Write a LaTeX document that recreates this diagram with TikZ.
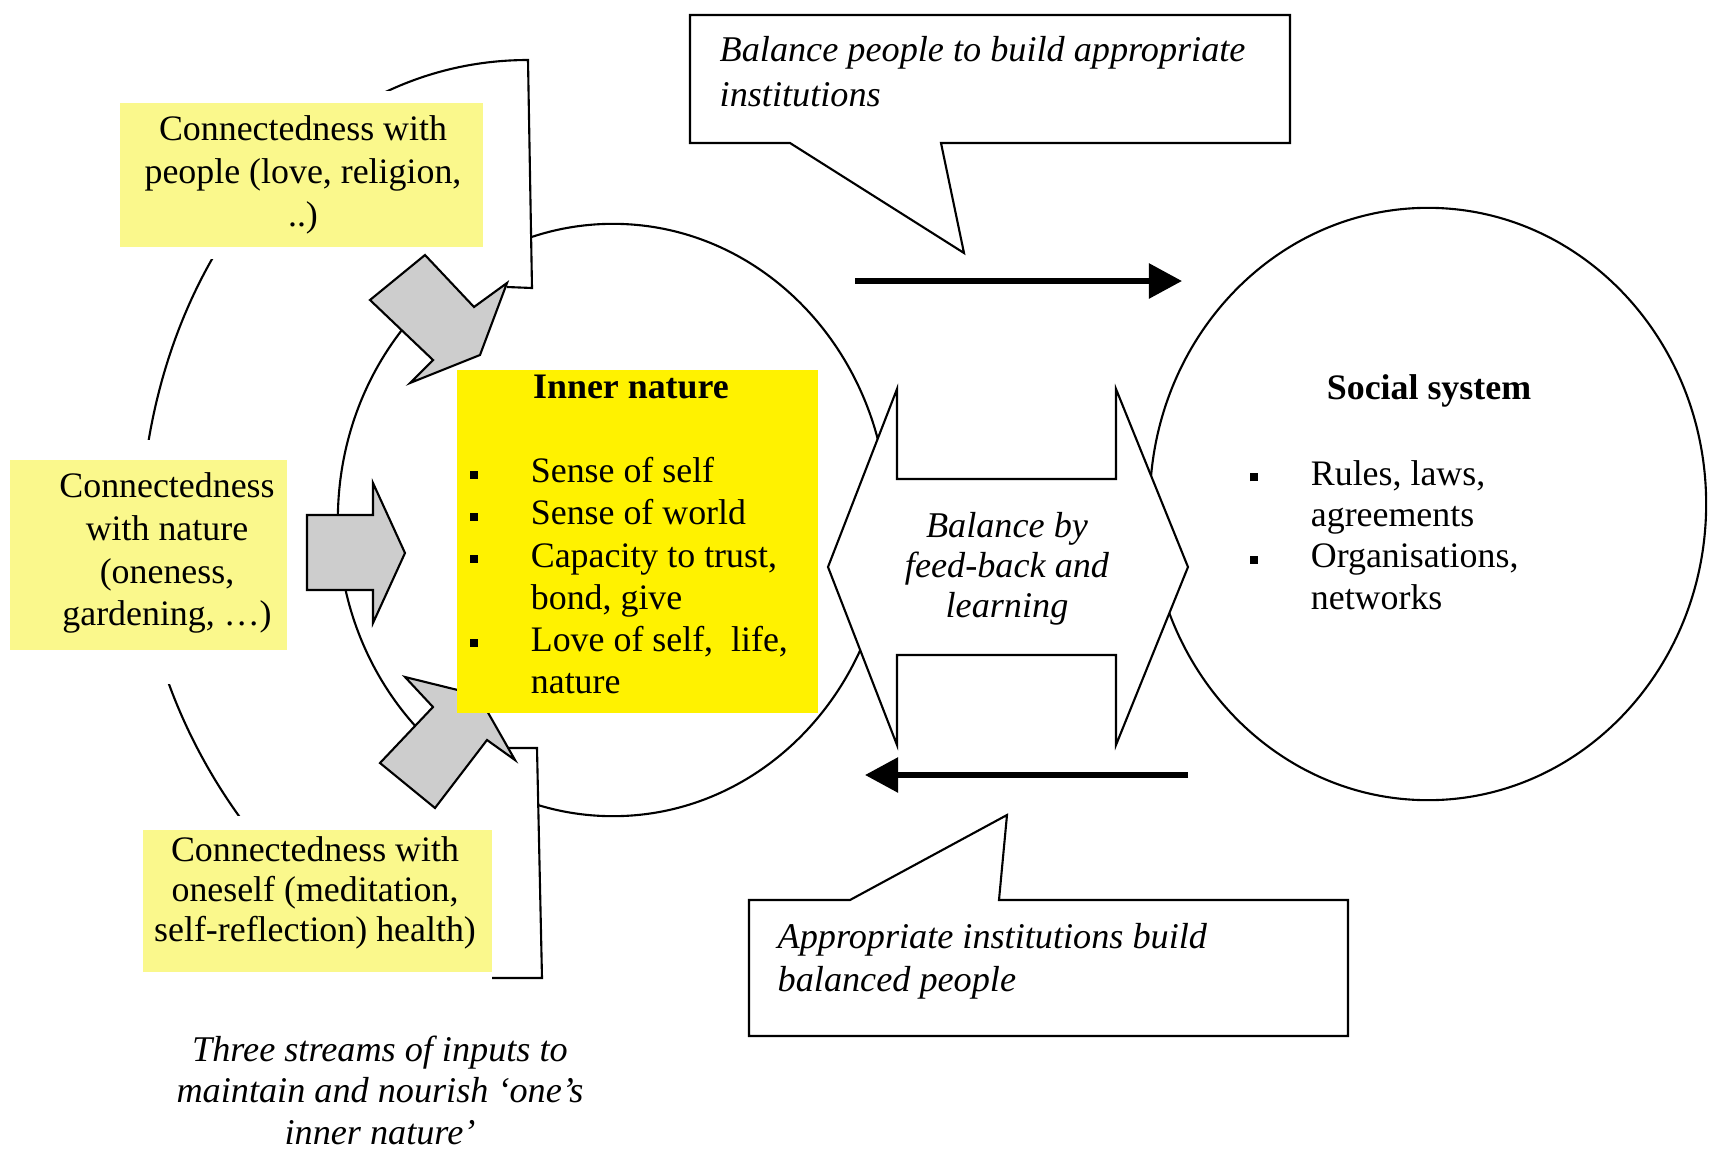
\documentclass[tikz,border=0pt]{standalone}
\usepackage{fontspec}
\setmainfont{Liberation Serif}
\usetikzlibrary{arrows.meta}

\definecolor{paleyellow}{RGB}{250,248,140}
\definecolor{streamgray}{RGB}{205,205,205}

\newcommand{\listmark}{\makebox[17.4pt][l]{\rule[1.2pt]{2.3pt}{2.3pt}}}

\tikzset{
  rim/.style={line width=0.6pt},
  stream/.style={rim, fill=streamgray},
  bubble/.style={rim, fill=white},
  flow/.style={line width=1.6pt, -{Triangle[length=0.33cm,width=0.34cm]}},
  txt/.style={inner sep=0pt, font=\fontsize{10.2}{#1}\selectfont},
  txt/.default=12.2pt,
  itxt/.style={inner sep=0pt, font=\fontsize{10.3}{#1}\selectfont\itshape},
  itxt/.default=12.2pt,
  title/.style={inner sep=0pt, anchor=base, font=\fontsize{10.2}{12.2}\selectfont\bfseries}
}

\begin{document}
\begin{tikzpicture}[x=0.01cm, y=-0.01cm]
  \useasboundingbox (0,0) rectangle (1717,1151);

  % the two circles
  \draw[rim] (613,520) ellipse [x radius=2.75cm, y radius=2.96cm];
  \draw[rim] (1428,504) ellipse [x radius=2.78cm, y radius=2.96cm];
  \fill[white] (425,262) -- (530,212) -- (531,288) -- (470,305) -- cycle;
  \fill[white] (455,770) -- (487,740) -- (537,748) -- (538,815) -- (470,800) -- cycle;

  % outer arc round the three streams
  \draw[rim] (507,287) -- (532,288) -- (528,60)
    .. controls (305,60) and (140,277) .. (140,545)
    .. controls (150,760) and (330,978) .. (492,978)
    -- (542,978) -- (537,748) -- (505,748);

  % input boxes
  \fill[white] (108,91) rectangle (495,259);
  \fill[paleyellow] (120,103) rectangle (483,247);
  \node[txt, align=center] (people) at (303,175) {Connectedness with\\people (love, religion,\\..)};

  \fill[white] (0,440) rectangle (300,684);
  \fill[paleyellow] (10,460) rectangle (287,650);
  \node[txt, align=center] (nature) at (167,553) {Connectedness\\with nature\\(oneness,\\gardening, …)};

  \fill[white] (130,816) rectangle (492,986);
  \fill[paleyellow] (143,830) rectangle (492,972);
  \node[txt=11.4pt, align=center] (oneself) at (315,893) {Connectedness with\\oneself (meditation,\\self-reflection) health)};

  % gray input arrows
  \filldraw[stream] (425,255) -- (370,300) -- (433,360) -- (410,383) -- (480,355) -- (507,283) -- (474,307) -- cycle;
  \filldraw[stream] (307,515) -- (373,515) -- (373,483) -- (405,553) -- (373,623) -- (373,590) -- (307,590) -- cycle;
  \filldraw[stream] (380,763) -- (433,707) -- (405,677) -- (478,695) -- (515,760) -- (487,740) -- (435,808) -- cycle;

  % inner nature
  \fill[yellow] (457,370) rectangle (818,713);
  \node[title] (innertitle) at (631,398) {Inner nature};
  \node[txt=11.95pt, align=left, anchor=north west] (innerlist) at (469,457)
    {\listmark Sense of self\\
     \listmark Sense of world\\
     \listmark Capacity to trust,\\
     \hspace*{17.4pt}bond, give\\
     \listmark Love of self, \ life,\\
     \hspace*{17.4pt}nature};

  % feed-back arrow
  \filldraw[bubble] (828,567) -- (897,389) -- (897,479) -- (1116,479) -- (1116,389) -- (1188,567)
    -- (1116,745) -- (1116,655) -- (897,655) -- (897,745) -- cycle;
  \node[itxt=11.4pt, align=center] (balance) at (1007,569) {Balance by\\feed-back and\\learning};

  % flows between the circles
  \coordinate (outstart) at (855,281);
  \coordinate (outend) at (1182,281);
  \coordinate (backstart) at (1188,775);
  \coordinate (backend) at (865,775);
  \draw[flow] (outstart) -- (outend);
  \draw[flow] (backstart) -- (backend);

  % callouts
  \filldraw[bubble] (690,15) -- (1290,15) -- (1290,143) -- (941,143) -- (964,253) -- (790,143) -- (690,143) -- cycle;
  \node[itxt=12.8pt, align=left, anchor=north west] (buildtext) at (719,36) {Balance people to build appropriate\\institutions};
  \filldraw[bubble] (749,900) -- (850,900) -- (1007,815) -- (999,900) -- (1348,900) -- (1348,1036) -- (749,1036) -- cycle;
  \node[itxt, align=left, anchor=north west] (growtext) at (777,923) {Appropriate institutions build\\balanced people};

  % social system
  \node[title] (socialtitle) at (1429,399) {Social system};
  \node[txt=11.7pt, align=left, anchor=north west] (sociallist) at (1249,460)
    {\listmark Rules, laws,\\
     \hspace*{17.4pt}agreements\\
     \listmark Organisations,\\
     \hspace*{17.4pt}networks};

  % caption
  \node[itxt=11.8pt, align=center] (caption) at (380,1090) {Three streams of inputs to\\maintain and nourish `one's\\inner nature'};
\end{tikzpicture}
\end{document}
